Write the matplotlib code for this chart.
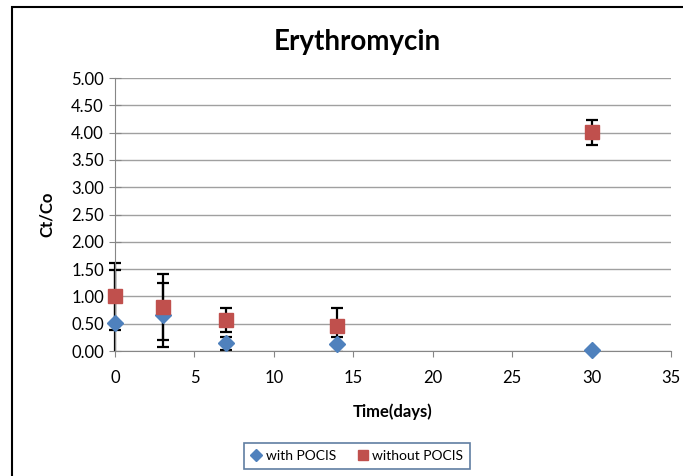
"""Erythromycin Ct/Co over time, with and without POCIS."""

import matplotlib.pyplot as plt
from matplotlib.patches import Rectangle

plt.rcParams["font.family"] = ["Lato", "DejaVu Sans"]

days = [0, 3, 7, 14, 30]
with_pocis = [0.52, 0.66, 0.14, 0.12, 0.01]
with_pocis_err = [0.97, 0.59, 0.12, 0.14, 0.0]
without_pocis = [1.00, 0.81, 0.57, 0.46, 4.01]
without_pocis_err = [0.62, 0.60, 0.22, 0.33, 0.23]

y_ticks = [0, 0.5, 1, 1.5, 2, 2.5, 3, 3.5, 4, 4.5, 5]
x_ticks = [0, 5, 10, 15, 20, 25, 30, 35]

BLUE = "#4F81BD"
RED = "#C0504D"

fig = plt.figure(figsize=(6.83, 4.76), dpi=100)
ax = fig.add_axes([0.1684, 0.2626, 0.8140, 0.5735])

# outer chart frame (cropped on the right and bottom)
fig.patches.append(Rectangle((12 / 683, -0.05), 1.1, 0.05 + 1 - 7 / 476,
                             transform=fig.transFigure, fill=False,
                             edgecolor="black", linewidth=1.5))

# clip error bars at y=0 only, so the bars at day 0 are not cut in half
clip_rect = Rectangle((-0.05, 0), 1.1, 1.2, transform=ax.transAxes,
                      visible=False)
ax.add_patch(clip_rect)

err_kw = dict(fmt="none", ecolor="black", elinewidth=1.6, capsize=4,
              capthick=1.6, zorder=2)
for vals, errs in ((with_pocis, with_pocis_err),
                   (without_pocis, without_pocis_err)):
    eb = ax.errorbar(days, vals, yerr=errs, **err_kw)
    for art in eb.lines[1] + eb.lines[2]:
        art.set_clip_path(clip_rect)

ax.plot(days, with_pocis, linestyle="none", marker="D", markersize=8,
        color=BLUE, label="with POCIS", zorder=3, clip_on=False)
ax.plot(days, without_pocis, linestyle="none", marker="s", markersize=10,
        color=RED, label="without POCIS", zorder=4, clip_on=False)

ax.set_xlim(0, 35)
ax.set_ylim(0, 5)
ax.set_xticks(x_ticks)
ax.set_yticks(y_ticks)
ax.set_yticklabels([f"{v:.2f}" for v in y_ticks])
ax.tick_params(axis="both", labelsize=12, color="#868686", length=4)
ax.tick_params(axis="y", direction="inout", length=8, pad=4)
ax.tick_params(axis="x", pad=10)
ax.grid(axis="y", color="#A0A0A0", linewidth=1)
ax.set_axisbelow(True)
for side in ("top", "right"):
    ax.spines[side].set_visible(False)
for side in ("left", "bottom"):
    ax.spines[side].set_color("#868686")

ax.set_xlabel("Time(days)", fontsize=12, fontweight="bold", labelpad=12)
ax.set_ylabel("Ct/Co", fontsize=12, fontweight="bold", labelpad=12)
fig.text(357 / 683, 1 - 42 / 476, "Erythromycin", ha="center", va="center",
         fontsize=20, fontweight="bold")

leg = fig.legend(loc="center", bbox_to_anchor=(357 / 683, 1 - 456 / 476),
                 ncol=2, fontsize=10, frameon=True, fancybox=False,
                 handlelength=0.8, handletextpad=0.3, columnspacing=1.5,
                 markerscale=0.75, borderpad=0.5)
leg.get_frame().set_edgecolor("#385D8A")
leg.get_frame().set_linewidth(1.2)

fig.savefig("out.png", dpi=100)
